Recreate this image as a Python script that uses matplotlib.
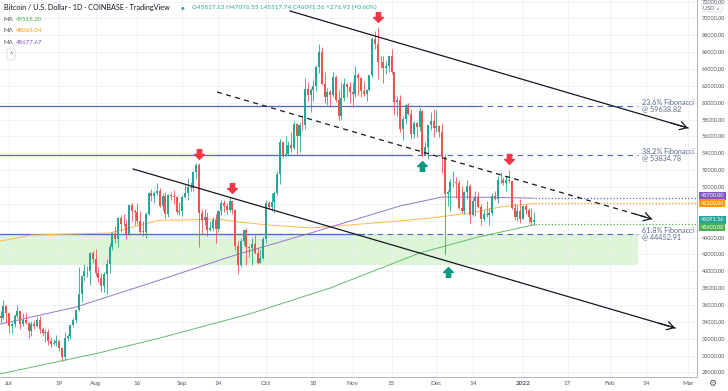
import numpy as np
import pandas as pd
import matplotlib
matplotlib.use('Agg')
import matplotlib.pyplot as plt
import matplotlib.dates as mdates
import matplotlib.transforms as mtrans
from matplotlib.path import Path

plt.rcParams['font.family'] = ['Lato', 'DejaVu Sans']

# Daily candles, Jun 28 2021 .. Jan 5 2022.
start = '2021-06-28'
firstOpen = 34700
closeJun = [34500, 35900, 35040]
highJun = [35300, 36600, 36000]
lowJun = [33900, 34300, 34000]
closeJul = [33500, 33800, 34650, 35300, 33700, 34230, 33870, 32870, 33800, 33500,
            34250, 33100, 32700, 32820, 31780, 31420, 31520, 31780, 30840, 29790,
            32140, 32300, 33600, 34270, 35400, 37280, 39450, 40000, 40030, 42200, 41460]
highJul = [35050, 33950, 34950, 35950, 35300, 35100, 35050, 33950, 34100, 34250,
           34600, 34650, 33350, 33100, 33200, 32250, 31950, 32450, 31900, 31050,
           32850, 32600, 33650, 34500, 35400, 40550, 39550, 40900, 40650, 42300, 42400]
lowJul = [32700, 32700, 33350, 34400, 33150, 33550, 33800, 32100, 32300, 33100,
          33350, 32700, 32300, 31600, 31200, 31050, 31200, 31150, 30500, 29300,
          29500, 31700, 32000, 33400, 33900, 35250, 36400, 38800, 39300, 38350, 41000]
closeAug = [39850, 39150, 38200, 39720, 40870, 42830, 44600, 43800, 46300, 45600,
            45560, 44420, 47830, 47100, 47020, 45920, 44680, 44710, 46760, 49320,
            48880, 49290, 49500, 47700, 48980, 46850, 49070, 48900, 48800, 46990, 47130]
highAug = [42600, 40450, 39800, 39950, 41400, 43400, 44700, 45350, 46450, 46700,
           46750, 46200, 47900, 48150, 47400, 48050, 47150, 46000, 47050, 49350,
           49800, 49500, 50500, 49850, 49300, 49400, 49200, 49350, 49650, 48950, 48200]
lowAug = [39450, 38700, 37600, 37550, 37350, 39850, 42500, 43300, 42850, 44700,
          45350, 43800, 44250, 45950, 45500, 45650, 44400, 44200, 43950, 46650,
          48300, 48100, 49050, 47600, 47200, 46350, 46400, 48400, 48000, 46850, 46700]
closeSep = [48830, 49280, 50000, 49920, 51760, 52660, 46860, 46070, 46400, 44850,
            45160, 46050, 44960, 47100, 48150, 47750, 47290, 48300, 47250, 42990,
            40700, 43560, 44880, 42840, 42720, 43200, 42200, 41030, 41530, 43800]
highSep = [49000, 50400, 51050, 50550, 51900, 52800, 52900, 47350, 47350, 47050,
           45950, 46450, 46850, 47250, 48450, 48500, 48150, 48800, 48350, 47350,
           43650, 44000, 44950, 45150, 42950, 43950, 44350, 42750, 42600, 44100]
lowSep = [46600, 48650, 48400, 49500, 49500, 50950, 42850, 44450, 45550, 44200,
          44750, 44750, 43400, 44700, 46700, 47050, 46800, 47050, 46850, 42550,
          39650, 40550, 43100, 40700, 41700, 40800, 42100, 40900, 41000, 41400]
closeOct = [48160, 47640, 48200, 49230, 51500, 55340, 53800, 53950, 54950, 54650,
            57480, 56000, 57370, 57350, 61670, 60880, 61530, 62010, 64280, 66000,
            62200, 60690, 61300, 60860, 63080, 60330, 58450, 60590, 62250, 61880, 61320]
highOct = [48500, 48350, 49250, 49500, 51900, 55750, 55350, 56100, 55450, 56550,
           57800, 57650, 57700, 58500, 62900, 62400, 61700, 62650, 64500, 67000,
           66650, 63700, 61750, 61500, 63700, 63300, 61450, 62450, 62950, 62350, 62400]
lowOct = [43300, 47400, 47100, 46950, 49050, 50400, 53400, 53650, 53700, 54100,
          54450, 53900, 54200, 56800, 56850, 60200, 58950, 60150, 61350, 63500,
          62050, 60000, 59700, 59550, 60700, 60100, 58000, 57900, 60150, 60700, 59950]
closeNov = [61000, 63230, 62940, 61440, 61010, 61530, 63300, 67550, 66950, 64880,
            64780, 64150, 64400, 65500, 63600, 60100, 60360, 56890, 58100, 59730,
            58700, 56290, 57550, 57150, 58960, 53700, 54750, 57300, 57800, 56950]
highNov = [62400, 64300, 63500, 63100, 62600, 61600, 63300, 67800, 68550, 69000,
           65600, 65500, 65000, 65550, 66350, 63600, 60800, 60950, 58400, 59850,
           60000, 59300, 57850, 57700, 59400, 59150, 55300, 57400, 58850, 59200]
lowNov = [59550, 60650, 60900, 60700, 60750, 60150, 61350, 63100, 66400, 62850,
          64100, 62350, 63400, 63600, 63400, 58600, 58400, 56500, 55600, 57450,
          58550, 55700, 55800, 55950, 56700, 53600, 53650, 53350, 56750, 55900]
closeDec = [57200, 56500, 53600, 49200, 49400, 50550, 50600, 50500, 47550, 47150,
            49400, 50100, 46700, 48350, 48870, 47650, 46200, 46850, 46700, 46880,
            48950, 48620, 50820, 50840, 50440, 50800, 50700, 47540, 46460, 47120, 46210]
highDec = [59100, 57400, 57600, 53900, 49700, 50900, 51900, 51200, 50800, 50100,
           49500, 50800, 50300, 48700, 49500, 49450, 47950, 47300, 48350, 47500,
           49300, 49550, 51350, 51800, 51150, 51250, 52050, 50700, 48150, 47900, 48550]
lowDec = [56500, 55900, 51700, 42000, 47800, 47100, 50050, 48750, 47350, 46900,
          46800, 48600, 45700, 46550, 46600, 47550, 45500, 45950, 46450, 45550,
          46650, 48450, 48050, 50450, 50250, 49500, 50450, 47350, 46100, 46000, 45700]
closeJan = [47740, 47300, 46460, 45817, 46091]
highJan = [47900, 47950, 47550, 47500, 47076]
lowJan = [46200, 46750, 45700, 45500, 45517]

# Moving averages, read at a few dates along each line.
maGreenDates = ['2021-06-28', '2021-07-06', '2021-08-02', '2021-08-24', '2021-09-25',
                '2021-10-24', '2021-11-25', '2021-12-16', '2022-01-05']
maGreen = [27840, 28400, 30300, 32080, 34930, 38020, 42170, 44070, 45518]
maPurpleDates = ['2021-06-28', '2021-07-25', '2021-08-24', '2021-09-20', '2021-10-17',
                 '2021-11-18', '2021-12-03', '2021-12-20', '2022-01-05']
maPurple = [33750, 35760, 38970, 41930, 44540, 47750, 48810, 48780, 48677]
maOrangeDates = ['2021-06-28', '2021-07-09', '2021-08-06', '2021-08-24', '2021-09-01',
                 '2021-09-14', '2021-09-21', '2021-10-02', '2021-10-17', '2021-11-18',
                 '2021-11-29', '2021-12-13', '2021-12-24', '2022-01-05']
maOrange = [43590, 44300, 44540, 46080, 46080, 46200, 45850, 45490, 45140, 45970,
            46320, 46910, 47630, 48065]

fibLevels = [59638.82, 53834.78, 44452.91]
fibNames = ['23.6% Fibonacci', '38.2% Fibonacci', '61.8% Fibonacci']
fibSolidEnd = ['2021-12-15 14:00', '2021-11-21 14:00', '2021-11-05']
fibStart = '2021-09-13 12:00'
fibEnd = '2022-02-11 05:00'
zoneLow = 40750

# Trend lines (start, end) as (date, price).
channelTop = [('2021-10-09 14:00', 70880), ('2022-03-01 02:00', 57000)]
channelBottom = [('2021-08-14 10:00', 52140), ('2022-02-24 12:00', 33270)]
midLine = [('2021-09-13 12:00', 61270), ('2022-02-16 05:00', 46200)]

downArrows = [('2021-09-07', 53860), ('2021-09-19', 49940), ('2021-11-10', 70110), ('2021-12-27', 53320)]
upArrows = [('2021-11-26', 52490), ('2021-12-05', 39920)]

levelLines = [48700, 48100, 45600]
levelColors = ['#7e57c2', '#ff9800', '#4caf50']
lastClose = 46091.56

xTickDates = ['2021-07-01', '2021-07-19', '2021-08-01', '2021-08-16', '2021-09-01', '2021-09-14',
              '2021-10-01', '2021-10-18', '2021-11-01', '2021-11-15', '2021-12-01', '2021-12-14',
              '2022-01-01', '2022-01-17', '2022-02-01', '2022-02-14', '2022-03-01']
xTickLabels = ['Jul', '19', 'Aug', '16', 'Sep', '14', 'Oct', '18', 'Nov', '15', 'Dec', '14',
               '2022', '17', 'Feb', '14', 'Mar']
yTicks = np.arange(28000, 72001, 2000)
hiddenYLabels = [46000, 48000]   # covered by the price tags

upColor = '#26a69a'
downColor = '#ef5350'
fibColor = '#5068c4'
textColor = '#131722'


def d(s):
    return mdates.date2num(pd.Timestamp(s))


closes = np.array(closeJun + closeJul + closeAug + closeSep + closeOct + closeNov + closeDec + closeJan, float)
highs = np.array(highJun + highJul + highAug + highSep + highOct + highNov + highDec + highJan, float)
lows = np.array(lowJun + lowJul + lowAug + lowSep + lowOct + lowNov + lowDec + lowJan, float)
opens = np.concatenate([[firstOpen], closes[:-1]])
days = mdates.date2num(pd.date_range(start, periods=len(closes), freq='D'))

W, H = 728, 391
fig = plt.figure(figsize=(W / 100, H / 100), dpi=100)
ax = fig.add_axes([0, 14 / H, 697 / W, 377 / H])

x0 = d('2021-07-01') - 3.22
x1 = d('2021-07-01') + 246.3
ax.set_xlim(x0, x1)
ax.set_ylim(27458, 72186)

# grid and ticks
ax.set_xticks([d(s) for s in xTickDates])
ax.set_xticklabels(xTickLabels)
ax.set_yticks(yTicks)
ax.set_yticklabels(['' if v in hiddenYLabels else '%.2f' % v for v in yTicks])
ax.yaxis.tick_right()
ax.grid(True, color='#eef0f4', linewidth=0.6, zorder=0)
ax.tick_params(axis='both', length=0, labelcolor='#50535e')
ax.tick_params(axis='x', pad=3.2, labelsize=4.6)
ax.tick_params(axis='y', pad=3.6, labelsize=4.0)
for lbl in ax.get_xticklabels():
    if lbl.get_text() == '2022':
        lbl.set_fontweight('bold')
for side in ['top', 'left']:
    ax.spines[side].set_visible(False)
for side in ['right', 'bottom']:
    ax.spines[side].set_color('#b2b5be')
    ax.spines[side].set_linewidth(0.7)

# fib zone and levels
ax.fill_between([x0, d(fibEnd)], zoneLow, fibLevels[2], color='#dcf5d6', linewidth=0, zorder=1)
for lvl, name, solidEnd in zip(fibLevels, fibNames, fibSolidEnd):
    ax.plot([x0, d(solidEnd)], [lvl, lvl], color=fibColor, linewidth=0.9, zorder=2)
    ax.plot([d(fibStart), d(fibEnd)], [lvl, lvl], color=fibColor, linewidth=0.8,
            linestyle=(0, (5, 4)), zorder=2)
    ax.text(d(fibEnd) + 1.4, lvl, '%s\n@ %.2f' % (name, lvl), fontsize=5.2, color='#5c6b8c',
            va='center', ha='left', linespacing=0.95, zorder=6)

# moving averages
ax.plot([d(s) for s in maGreenDates], maGreen, color='#66bb6a', linewidth=0.7, zorder=3)
ax.plot([d(s) for s in maOrangeDates], maOrange, color='#ffb74d', linewidth=0.7, zorder=3)
ax.plot([d(s) for s in maPurpleDates], maPurple, color='#9575cd', linewidth=0.7, zorder=3)

# candles
col = np.where(closes >= opens, upColor, downColor)
ax.vlines(days, lows, highs, colors=col, linewidth=0.6, zorder=4)
ax.bar(days, np.maximum(np.abs(closes - opens), 60), bottom=np.minimum(opens, closes),
       width=0.72, color=col, linewidth=0, zorder=5)

# trend lines
for line, style in [(channelTop, '-'), (channelBottom, '-'), (midLine, (0, (4, 3.5)))]:
    (sa, pa), (sb, pb) = line
    ax.plot([d(sa), d(sb)], [pa, pb], color='#131722', linewidth=0.9, linestyle=style, zorder=6)
    ax.annotate('', xy=(d(sb), pb), xytext=(d(sb) - 6, pb + (pa - pb) * 6 / (d(sb) - d(sa))),
                arrowprops=dict(arrowstyle='->,head_length=0.5,head_width=0.3', color='#131722',
                                linewidth=0.9, shrinkA=0, shrinkB=0), zorder=6)

# signal arrows
downPath = Path([(-0.22, 0.5), (0.22, 0.5), (0.22, 0.0), (0.5, 0.0), (0.0, -0.5),
                 (-0.5, 0.0), (-0.22, 0.0), (-0.22, 0.5)], closed=True)
upPath = Path([(px, -py) for px, py in downPath.vertices], closed=True)
for s, p in downArrows:
    ax.plot(d(s), p, marker=downPath, markersize=7, color='#f23645', linestyle='none', zorder=7)
for s, p in upArrows:
    ax.plot(d(s), p, marker=upPath, markersize=7, color='#089981', linestyle='none', zorder=7)

# dotted level lines with price tags
lastDay = days[-1] + 0.3
for lvl, c in zip(levelLines, levelColors):
    ax.plot([lastDay, x1], [lvl, lvl], color=c, linewidth=0.9, linestyle=(0, (1, 1.6)), zorder=3)
trans = mtrans.blended_transform_factory(ax.transAxes, ax.transData)
tagVals = [48700, 48100, lastClose, 45600]
tagPos = [48950, 48100, 46091.56, 45250]
tagColors = ['#7e57c2', '#ff9800', upColor, '#4caf50']
for v, pos, c in zip(tagVals, tagPos, tagColors):
    ax.text(1.005, pos, '%.2f' % v, transform=trans, fontsize=4.0, color='white', va='center',
            ha='left', zorder=8, clip_on=False,
            bbox=dict(boxstyle='square,pad=0.3', facecolor=c, edgecolor='none'))


def fx(x):
    return x / W


def fy(y):
    return 1 - y / H


fig.text(fx(712), fy(8), 'USD \u2304', fontsize=4.0, color='#50535e', ha='center', va='center',
         bbox=dict(boxstyle='round,pad=0.25', facecolor='white', edgecolor='#d1d4dc', linewidth=0.5))
fig.text(fx(712), fy(383), '\u2699', fontsize=6.5, color='#50535e', ha='center', va='center')

# header
fig.text(fx(4), fy(7.5), 'Bitcoin / U.S. Dollar \u00b7 1D \u00b7 COINBASE \u00b7 TradingView',
         fontsize=5.2, color=textColor, va='center', ha='left')
fig.text(fx(183), fy(7.5), '\u25cf', fontsize=4.5, color='#26a69a', va='center', ha='center')
fig.text(fx(192), fy(7.5), 'O45817.13 H47076.55 L45517.74 C46091.36 +276.93 (+0.60%)',
         fontsize=4.6, color=upColor, va='center', ha='left')
for yy, val, c in [(19.3, '45518.20', '#4caf50'), (31, '48065.04', '#ff9800'), (42.3, '48677.67', '#7e57c2')]:
    fig.text(fx(4), fy(yy), 'MA', fontsize=4.4, color='#50535e', va='center', ha='left')
    fig.text(fx(16), fy(yy), val, fontsize=4.4, color=c, va='center', ha='left')
fig.text(fx(11), fy(54), '\u02c4', fontsize=5, color='#50535e', ha='center', va='center',
         bbox=dict(boxstyle='round,pad=0.35', facecolor='white', edgecolor='#d1d4dc', linewidth=0.5))

fig.savefig('out.png', dpi=100)
